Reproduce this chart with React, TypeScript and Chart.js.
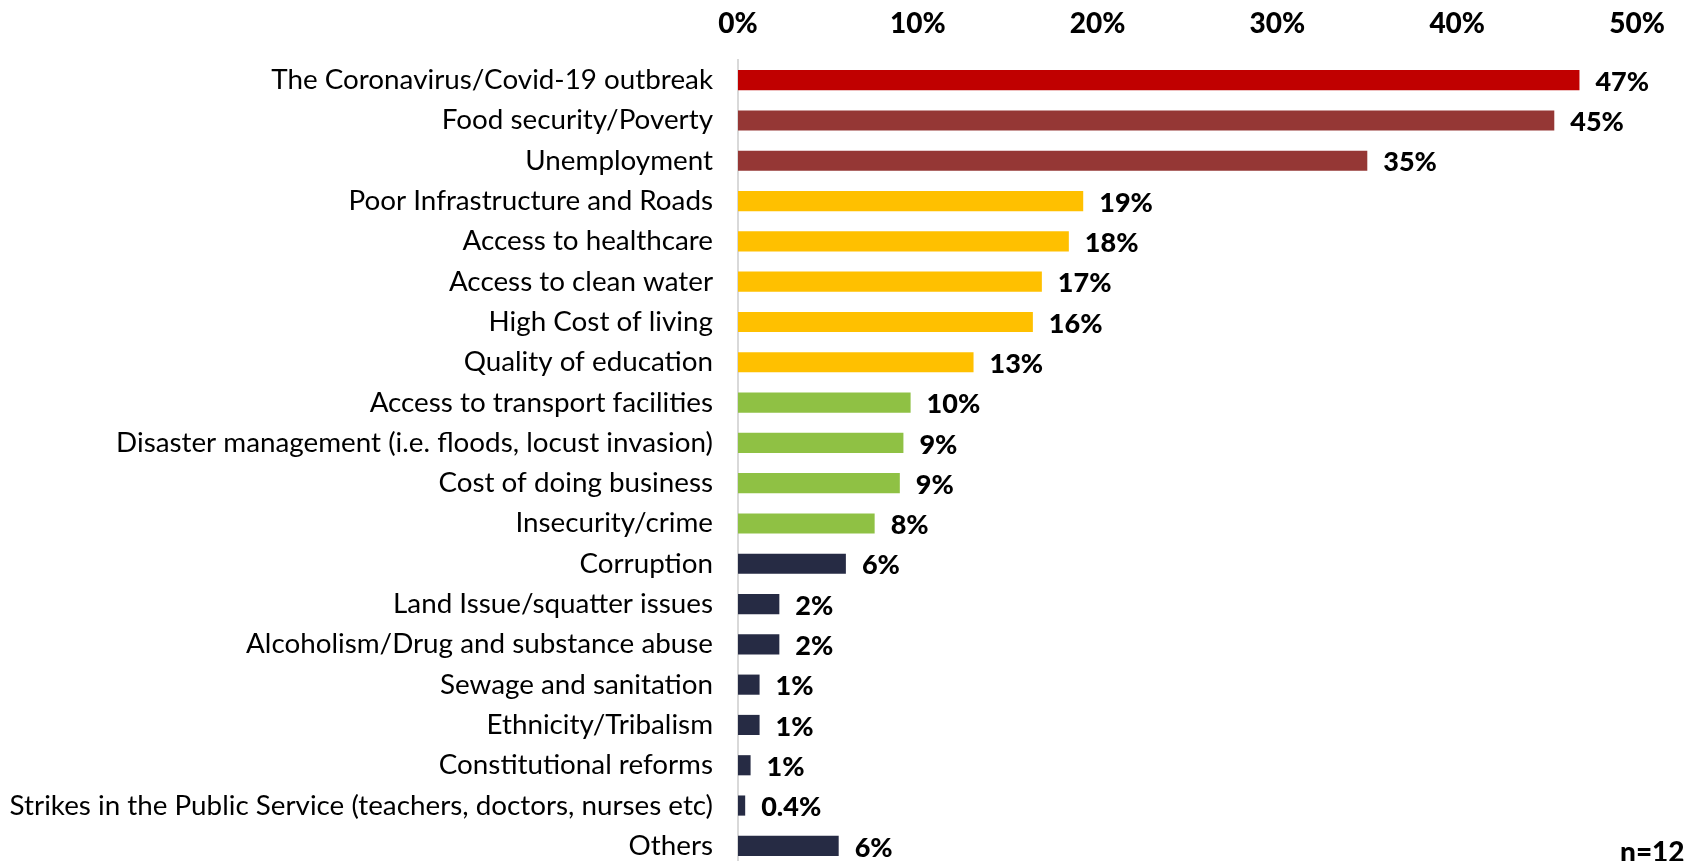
import React, { useEffect, useRef } from "react";
import { Chart, registerables } from "chart.js";

Chart.register(...registerables);

const categories = [
  "The Coronavirus/Covid-19 outbreak",
  "Food security/Poverty",
  "Unemployment",
  "Poor Infrastructure and Roads",
  "Access to healthcare",
  "Access to clean water",
  "High Cost of living",
  "Quality of education",
  "Access to transport facilities",
  "Disaster management (i.e. floods, locust invasion)",
  "Cost of doing business",
  "Insecurity/crime",
  "Corruption",
  "Land Issue/squatter issues",
  "Alcoholism/Drug and substance abuse",
  "Sewage and sanitation",
  "Ethnicity/Tribalism",
  "Constitutional reforms",
  "Strikes in the Public Service (teachers, doctors, nurses etc)",
  "Others",
];

const values = [46.8, 45.4, 35.0, 19.2, 18.4, 16.9, 16.4, 13.1, 9.6, 9.2, 9.0, 7.6, 6.0, 2.3, 2.3, 1.2, 1.2, 0.7, 0.4, 5.6];

const valueLabels = ["47%", "45%", "35%", "19%", "18%", "17%", "16%", "13%", "10%", "9%", "9%", "8%", "6%", "2%", "2%", "1%", "1%", "1%", "0.4%", "6%"];

const xTicks = [0, 10, 20, 30, 40, 50];

const sampleNote = "n=1200";

const RED = "#C00000";
const DARKRED = "#953735";
const YELLOW = "#FFC000";
const GREEN = "#8FC144";
const NAVY = "#262B44";
const barColors = [
  RED, DARKRED, DARKRED, YELLOW, YELLOW, YELLOW, YELLOW, YELLOW,
  GREEN, GREEN, GREEN, GREEN,
  NAVY, NAVY, NAVY, NAVY, NAVY, NAVY, NAVY, NAVY,
];

const LABEL_FONT = "Lato, 'Open Sans', sans-serif";

const valueLabelPlugin = {
  id: "valueLabels",
  afterDatasetsDraw(chart: any) {
    const ctx = chart.ctx;
    const meta = chart.getDatasetMeta(0);
    ctx.save();
    ctx.font = `900 27px ${LABEL_FONT}`;
    ctx.fillStyle = "#000";
    ctx.textAlign = "left";
    ctx.textBaseline = "middle";
    meta.data.forEach((bar: any, i: number) => {
      ctx.fillText(valueLabels[i], bar.x + 16, bar.y + 2);
    });
    ctx.restore();
  },
  afterDraw(chart: any) {
    const ctx = chart.ctx;
    ctx.save();
    ctx.font = `900 28px ${LABEL_FONT}`;
    ctx.fillStyle = "#000";
    ctx.textAlign = "left";
    ctx.textBaseline = "middle";
    ctx.fillText(sampleNote, 1620, 853);
    ctx.restore();
  },
};

export default function App() {
  const ref = useRef<HTMLCanvasElement | null>(null);

  useEffect(() => {
    if (!ref.current) return;
    const chart = new Chart(ref.current, {
      type: "bar",
      data: {
        labels: categories,
        datasets: [
          {
            data: values,
            backgroundColor: barColors,
            borderWidth: 0,
            barPercentage: 0.5,
            categoryPercentage: 1,
          },
        ],
      },
      options: {
        indexAxis: "y",
        animation: false,
        responsive: true,
        maintainAspectRatio: false,
        layout: { padding: { top: 0, right: 48, left: 0, bottom: 0 } },
        plugins: {
          legend: { display: false },
          tooltip: { enabled: false },
        },
        scales: {
          x: {
            position: "top",
            min: 0,
            max: 50,
            afterBuildTicks: (scale: any) => {
              scale.ticks = xTicks.map((v) => ({ value: v }));
            },
            afterFit: (scale: any) => {
              scale.height = 60;
            },
            grid: { display: false },
            border: { display: false },
            ticks: {
              padding: 11,
              color: "#000",
              maxRotation: 0,
              font: { family: LABEL_FONT, size: 28, weight: "900" },
              callback: (v: any) => `${v}%`,
            },
          },
          y: {
            grid: { display: false },
            border: { display: true, color: "#D9D9D9", width: 2 },
            afterFit: (scale: any) => {
              scale.width = 738;
              scale.paddingTop = 0;
              scale.paddingBottom = 0;
            },
            ticks: {
              padding: 17,
              color: "#000",
              autoSkip: false,
              font: { family: LABEL_FONT, size: 27.8 },
            },
          },
        },
      },
      plugins: [valueLabelPlugin],
    });
    return () => chart.destroy();
  }, []);

  return (
    <div style={{ position: "fixed", left: 0, top: 0, width: 1685, height: 861, overflow: "hidden", background: "#fff" }}>
      <div style={{ position: "relative", width: 1685, height: 866 }}>
        <canvas ref={ref} />
      </div>
    </div>
  );
}
